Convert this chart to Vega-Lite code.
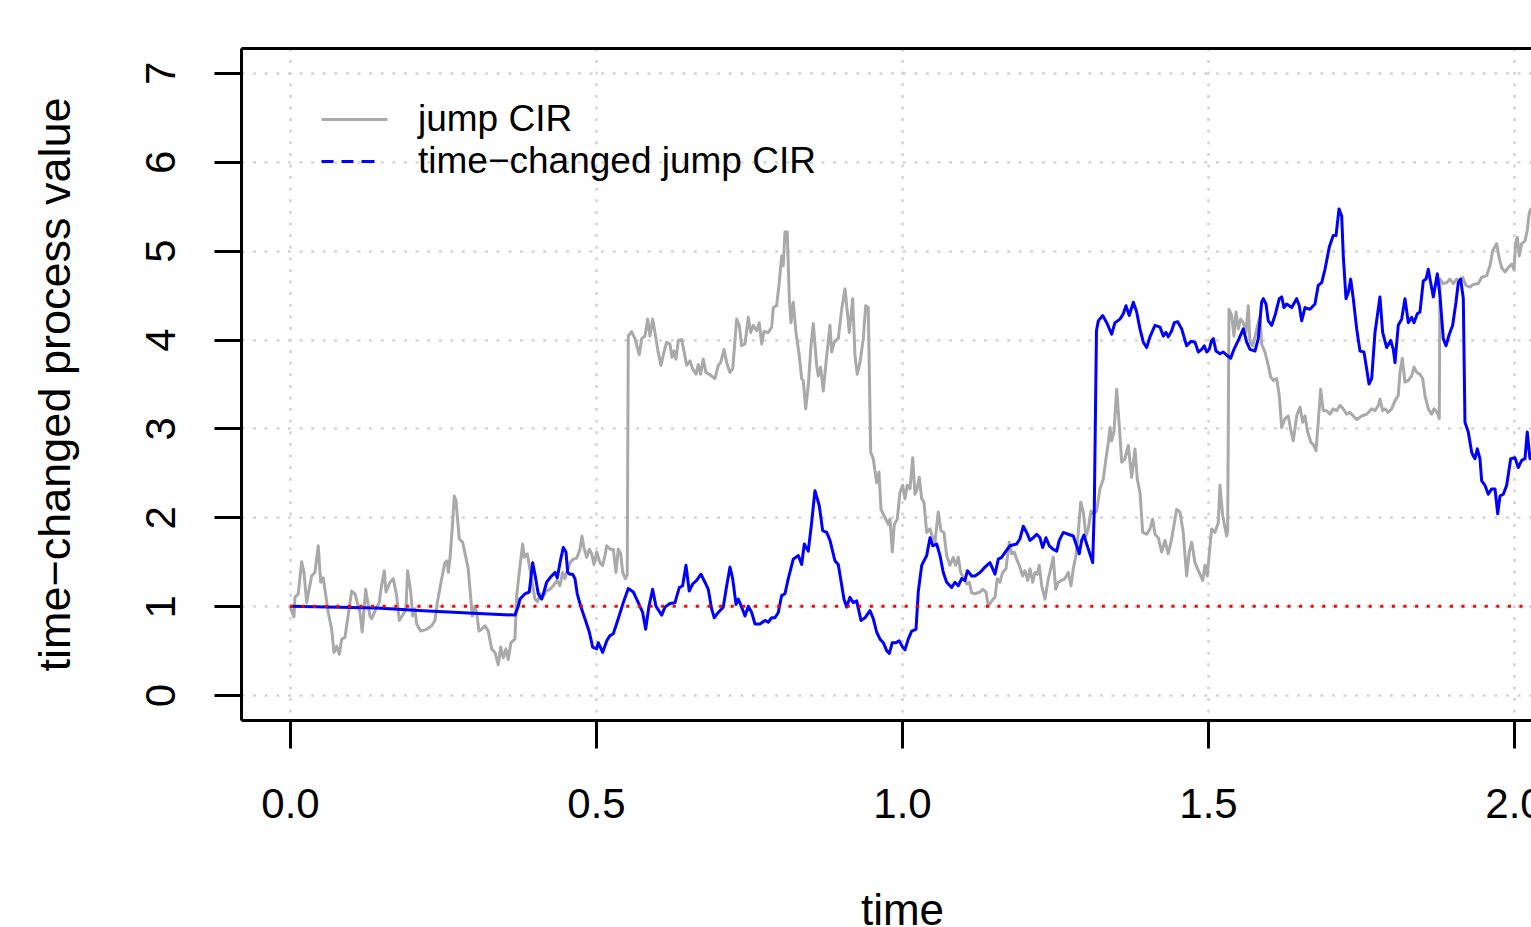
{
  "$schema": "https://vega.github.io/schema/vega-lite/v6.json",
  "width": 1290,
  "height": 672,
  "autosize": {"type": "none"},
  "padding": {"left": 241, "top": 48, "right": 0, "bottom": 207},
  "background": "white",
  "config": {
    "font": "Liberation Sans",
    "view": {"stroke": null},
    "axis": {
      "domainColor": "black", "domainWidth": 3, "tickColor": "black", "tickWidth": 3,
      "labelColor": "black", "labelFont": "Liberation Sans", "labelFontSize": 42,
      "titleColor": "black", "titleFont": "Liberation Sans", "titleFontSize": 43, "titleFontWeight": "normal",
      "gridColor": "#d3d3d3", "gridWidth": 2.5, "gridDash": [3, 8.6], "gridOpacity": 1
    }
  },
  "datasets": {
    "g": [{"t":0,"v":1.00},{"t":0.0065,"v":0.88},{"t":0.0082,"v":1.10},{"t":0.0136,"v":1.14},{"t":0.0191,"v":1.50},{"t":0.0229,"v":1.38},{"t":0.0273,"v":1.04},{"t":0.0354,"v":1.34},{"t":0.0408,"v":1.38},{"t":0.0462,"v":1.68},{"t":0.0502,"v":1.27},{"t":0.0544,"v":1.32},{"t":0.0626,"v":0.93},{"t":0.0681,"v":0.74},{"t":0.0719,"v":0.48},{"t":0.0763,"v":0.55},{"t":0.0806,"v":0.46},{"t":0.0845,"v":0.63},{"t":0.0899,"v":0.65},{"t":0.1008,"v":1.17},{"t":0.1062,"v":1.14},{"t":0.1144,"v":0.93},{"t":0.1181,"v":0.71},{"t":0.1237,"v":1.19},{"t":0.1307,"v":0.89},{"t":0.1335,"v":0.86},{"t":0.1417,"v":0.99},{"t":0.1459,"v":1.04},{"t":0.1487,"v":1.19},{"t":0.1541,"v":1.40},{"t":0.1569,"v":1.16},{"t":0.1634,"v":1.27},{"t":0.1688,"v":1.31},{"t":0.1743,"v":1.12},{"t":0.1786,"v":0.84},{"t":0.1851,"v":0.91},{"t":0.1895,"v":0.97},{"t":0.1923,"v":1.40},{"t":0.1972,"v":1.17},{"t":0.2005,"v":0.89},{"t":0.2042,"v":0.97},{"t":0.2070,"v":0.80},{"t":0.2136,"v":0.72},{"t":0.2234,"v":0.74},{"t":0.2315,"v":0.78},{"t":0.2369,"v":0.84},{"t":0.2407,"v":1.04},{"t":0.2479,"v":1.31},{"t":0.2533,"v":1.49},{"t":0.2570,"v":1.51},{"t":0.2587,"v":1.38},{"t":0.2614,"v":1.53},{"t":0.2658,"v":1.94},{"t":0.2685,"v":2.24},{"t":0.2712,"v":2.19},{"t":0.2766,"v":1.76},{"t":0.2822,"v":1.72},{"t":0.2913,"v":1.42},{"t":0.2979,"v":0.89},{"t":0.3023,"v":1.00},{"t":0.3051,"v":0.93},{"t":0.3088,"v":0.72},{"t":0.3132,"v":0.74},{"t":0.3186,"v":0.78},{"t":0.3240,"v":0.72},{"t":0.3296,"v":0.52},{"t":0.3350,"v":0.48},{"t":0.3404,"v":0.34},{"t":0.3443,"v":0.54},{"t":0.3485,"v":0.42},{"t":0.3529,"v":0.52},{"t":0.3567,"v":0.40},{"t":0.3611,"v":0.59},{"t":0.3676,"v":0.63},{"t":0.3704,"v":1.12},{"t":0.3747,"v":1.38},{"t":0.3802,"v":1.70},{"t":0.3829,"v":1.55},{"t":0.3877,"v":1.59},{"t":0.3910,"v":1.46},{"t":0.3966,"v":1.23},{"t":0.4003,"v":1.08},{"t":0.4047,"v":1.05},{"t":0.4085,"v":1.14},{"t":0.4129,"v":1.10},{"t":0.4183,"v":1.17},{"t":0.4248,"v":1.19},{"t":0.4302,"v":1.23},{"t":0.4368,"v":1.29},{"t":0.4412,"v":1.23},{"t":0.4456,"v":1.38},{"t":0.4493,"v":1.31},{"t":0.4531,"v":1.40},{"t":0.4575,"v":1.49},{"t":0.4629,"v":1.53},{"t":0.4685,"v":1.54},{"t":0.4739,"v":1.64},{"t":0.4771,"v":1.79},{"t":0.4804,"v":1.66},{"t":0.4848,"v":1.55},{"t":0.4891,"v":1.64},{"t":0.4930,"v":1.59},{"t":0.4967,"v":1.47},{"t":0.5011,"v":1.61},{"t":0.5065,"v":1.49},{"t":0.5109,"v":1.46},{"t":0.5147,"v":1.57},{"t":0.5175,"v":1.68},{"t":0.5229,"v":1.64},{"t":0.5283,"v":1.64},{"t":0.5327,"v":1.38},{"t":0.5364,"v":1.64},{"t":0.5404,"v":1.59},{"t":0.5436,"v":1.38},{"t":0.5479,"v":1.31},{"t":0.5511,"v":1.35},{"t":0.5528,"v":4.04},{"t":0.5583,"v":4.09},{"t":0.5637,"v":4.01},{"t":0.5707,"v":3.83},{"t":0.5747,"v":4.01},{"t":0.5801,"v":4.04},{"t":0.5845,"v":4.23},{"t":0.5882,"v":4.04},{"t":0.5926,"v":4.23},{"t":0.5964,"v":4.08},{"t":0.6008,"v":3.89},{"t":0.6062,"v":3.71},{"t":0.6111,"v":3.86},{"t":0.6155,"v":3.97},{"t":0.6209,"v":3.95},{"t":0.6242,"v":3.80},{"t":0.6275,"v":3.87},{"t":0.6307,"v":3.78},{"t":0.6345,"v":3.99},{"t":0.6400,"v":4.00},{"t":0.6438,"v":3.87},{"t":0.6482,"v":3.71},{"t":0.6536,"v":3.76},{"t":0.6580,"v":3.67},{"t":0.6634,"v":3.61},{"t":0.6672,"v":3.72},{"t":0.6710,"v":3.61},{"t":0.6753,"v":3.78},{"t":0.6797,"v":3.63},{"t":0.6851,"v":3.61},{"t":0.6944,"v":3.56},{"t":0.6998,"v":3.71},{"t":0.7037,"v":3.74},{"t":0.7092,"v":3.89},{"t":0.7136,"v":3.74},{"t":0.7190,"v":3.63},{"t":0.7234,"v":3.67},{"t":0.7299,"v":4.23},{"t":0.7342,"v":4.16},{"t":0.7381,"v":3.93},{"t":0.7435,"v":3.95},{"t":0.7489,"v":4.25},{"t":0.7528,"v":4.08},{"t":0.7570,"v":4.16},{"t":0.7626,"v":4.10},{"t":0.7668,"v":4.19},{"t":0.7708,"v":3.95},{"t":0.7745,"v":4.09},{"t":0.7815,"v":4.08},{"t":0.7871,"v":4.14},{"t":0.7897,"v":4.36},{"t":0.7952,"v":4.38},{"t":0.7995,"v":4.64},{"t":0.8034,"v":4.94},{"t":0.8060,"v":4.83},{"t":0.8088,"v":5.21},{"t":0.8126,"v":5.21},{"t":0.8159,"v":4.46},{"t":0.8186,"v":4.19},{"t":0.8224,"v":4.42},{"t":0.8268,"v":4.08},{"t":0.8322,"v":3.82},{"t":0.8361,"v":3.56},{"t":0.8387,"v":3.54},{"t":0.8427,"v":3.22},{"t":0.8469,"v":3.48},{"t":0.8513,"v":3.93},{"t":0.8551,"v":4.18},{"t":0.8606,"v":3.71},{"t":0.8632,"v":3.59},{"t":0.8671,"v":3.69},{"t":0.8714,"v":3.42},{"t":0.8770,"v":3.82},{"t":0.8824,"v":4.16},{"t":0.8851,"v":3.86},{"t":0.8894,"v":3.97},{"t":0.8959,"v":4.01},{"t":0.9015,"v":4.34},{"t":0.9069,"v":4.57},{"t":0.9113,"v":4.27},{"t":0.9139,"v":4.08},{"t":0.9194,"v":4.46},{"t":0.9232,"v":3.82},{"t":0.9270,"v":3.61},{"t":0.9314,"v":3.74},{"t":0.9368,"v":4.01},{"t":0.9407,"v":4.38},{"t":0.9449,"v":4.36},{"t":0.9489,"v":2.73},{"t":0.9531,"v":2.66},{"t":0.9586,"v":2.39},{"t":0.9624,"v":2.51},{"t":0.9657,"v":2.09},{"t":0.9722,"v":2.00},{"t":0.9776,"v":1.92},{"t":0.9804,"v":1.98},{"t":0.9842,"v":1.61},{"t":0.9874,"v":1.92},{"t":0.9923,"v":1.98},{"t":0.9967,"v":2.28},{"t":1.0011,"v":2.36},{"t":1.0049,"v":2.21},{"t":1.0087,"v":2.36},{"t":1.0131,"v":2.32},{"t":1.0175,"v":2.67},{"t":1.0212,"v":2.26},{"t":1.0240,"v":2.30},{"t":1.0283,"v":2.45},{"t":1.0322,"v":2.21},{"t":1.0359,"v":2.17},{"t":1.0404,"v":1.83},{"t":1.0458,"v":1.87},{"t":1.0502,"v":1.77},{"t":1.0539,"v":1.72},{"t":1.0593,"v":2.06},{"t":1.0637,"v":1.85},{"t":1.0686,"v":1.83},{"t":1.0730,"v":1.57},{"t":1.0784,"v":1.46},{"t":1.0838,"v":1.55},{"t":1.0877,"v":1.46},{"t":1.0920,"v":1.55},{"t":1.0959,"v":1.38},{"t":1.1013,"v":1.31},{"t":1.1057,"v":1.25},{"t":1.1100,"v":1.27},{"t":1.1139,"v":1.15},{"t":1.1193,"v":1.14},{"t":1.1275,"v":1.16},{"t":1.1319,"v":1.19},{"t":1.1373,"v":1.16},{"t":1.1410,"v":1.00},{"t":1.1466,"v":1.06},{"t":1.1520,"v":1.10},{"t":1.1557,"v":1.31},{"t":1.1601,"v":1.27},{"t":1.1645,"v":1.38},{"t":1.1699,"v":1.42},{"t":1.1753,"v":1.72},{"t":1.1792,"v":1.59},{"t":1.1835,"v":1.61},{"t":1.1874,"v":1.53},{"t":1.1917,"v":1.46},{"t":1.1972,"v":1.34},{"t":1.2010,"v":1.40},{"t":1.2054,"v":1.29},{"t":1.2092,"v":1.42},{"t":1.2136,"v":1.27},{"t":1.2173,"v":1.38},{"t":1.2211,"v":1.36},{"t":1.2243,"v":1.46},{"t":1.2283,"v":1.23},{"t":1.2337,"v":1.08},{"t":1.2391,"v":1.31},{"t":1.2430,"v":1.42},{"t":1.2472,"v":1.55},{"t":1.2511,"v":1.19},{"t":1.2554,"v":1.27},{"t":1.2609,"v":1.29},{"t":1.2663,"v":1.31},{"t":1.2717,"v":1.38},{"t":1.2761,"v":1.23},{"t":1.2799,"v":1.42},{"t":1.2843,"v":1.57},{"t":1.2881,"v":1.83},{"t":1.2920,"v":2.17},{"t":1.2963,"v":2.06},{"t":1.3007,"v":1.79},{"t":1.3044,"v":1.87},{"t":1.3088,"v":2.07},{"t":1.3126,"v":2.04},{"t":1.3181,"v":2.07},{"t":1.3235,"v":2.32},{"t":1.3289,"v":2.43},{"t":1.3333,"v":2.66},{"t":1.3371,"v":2.84},{"t":1.3399,"v":3.01},{"t":1.3426,"v":2.86},{"t":1.3464,"v":2.96},{"t":1.3508,"v":3.44},{"t":1.3551,"v":3.03},{"t":1.3590,"v":2.62},{"t":1.3644,"v":2.66},{"t":1.3698,"v":2.81},{"t":1.3753,"v":2.45},{"t":1.3807,"v":2.77},{"t":1.3845,"v":2.43},{"t":1.3889,"v":2.28},{"t":1.3933,"v":1.83},{"t":1.3998,"v":1.81},{"t":1.4052,"v":1.87},{"t":1.4096,"v":1.98},{"t":1.4134,"v":1.81},{"t":1.4188,"v":1.77},{"t":1.4243,"v":1.61},{"t":1.4297,"v":1.74},{"t":1.4351,"v":1.59},{"t":1.4407,"v":1.76},{"t":1.4488,"v":2.09},{"t":1.4542,"v":2.06},{"t":1.4596,"v":1.83},{"t":1.4651,"v":1.34},{"t":1.4694,"v":1.61},{"t":1.4734,"v":1.72},{"t":1.4788,"v":1.49},{"t":1.4842,"v":1.40},{"t":1.4914,"v":1.29},{"t":1.4951,"v":1.46},{"t":1.4989,"v":1.34},{"t":1.5021,"v":1.59},{"t":1.5060,"v":1.87},{"t":1.5114,"v":1.83},{"t":1.5168,"v":1.94},{"t":1.5196,"v":2.36},{"t":1.5240,"v":2.02},{"t":1.5305,"v":1.79},{"t":1.5322,"v":1.85},{"t":1.5343,"v":4.34},{"t":1.5387,"v":4.27},{"t":1.5425,"v":4.04},{"t":1.5458,"v":4.31},{"t":1.5495,"v":4.12},{"t":1.5534,"v":4.23},{"t":1.5577,"v":4.19},{"t":1.5621,"v":4.08},{"t":1.5659,"v":4.38},{"t":1.5686,"v":3.97},{"t":1.5730,"v":3.93},{"t":1.5768,"v":4.03},{"t":1.5822,"v":4.19},{"t":1.5850,"v":4.25},{"t":1.5877,"v":3.95},{"t":1.5931,"v":3.86},{"t":1.5985,"v":3.71},{"t":1.6024,"v":3.58},{"t":1.6067,"v":3.54},{"t":1.6122,"v":3.56},{"t":1.6165,"v":3.37},{"t":1.6204,"v":3.01},{"t":1.6258,"v":3.11},{"t":1.6312,"v":3.14},{"t":1.6351,"v":2.99},{"t":1.6394,"v":2.86},{"t":1.6449,"v":3.14},{"t":1.6503,"v":3.24},{"t":1.6547,"v":3.07},{"t":1.6585,"v":3.14},{"t":1.6629,"v":2.96},{"t":1.6683,"v":2.84},{"t":1.6721,"v":2.82},{"t":1.6765,"v":2.75},{"t":1.6802,"v":3.07},{"t":1.6841,"v":3.44},{"t":1.6884,"v":3.20},{"t":1.6939,"v":3.20},{"t":1.6993,"v":3.16},{"t":1.7047,"v":3.22},{"t":1.7103,"v":3.20},{"t":1.7157,"v":3.26},{"t":1.7211,"v":3.22},{"t":1.7266,"v":3.16},{"t":1.7320,"v":3.18},{"t":1.7374,"v":3.14},{"t":1.7430,"v":3.10},{"t":1.7511,"v":3.14},{"t":1.7593,"v":3.16},{"t":1.7675,"v":3.22},{"t":1.7729,"v":3.20},{"t":1.7783,"v":3.26},{"t":1.7810,"v":3.33},{"t":1.7854,"v":3.20},{"t":1.7892,"v":3.22},{"t":1.7946,"v":3.18},{"t":1.8000,"v":3.22},{"t":1.8056,"v":3.31},{"t":1.8109,"v":3.37},{"t":1.8137,"v":3.63},{"t":1.8175,"v":3.79},{"t":1.8219,"v":3.52},{"t":1.8273,"v":3.54},{"t":1.8328,"v":3.59},{"t":1.8366,"v":3.69},{"t":1.8410,"v":3.63},{"t":1.8464,"v":3.61},{"t":1.8508,"v":3.56},{"t":1.8546,"v":3.37},{"t":1.8600,"v":3.22},{"t":1.8655,"v":3.16},{"t":1.8693,"v":3.22},{"t":1.8747,"v":3.18},{"t":1.8779,"v":3.11},{"t":1.8791,"v":4.68},{"t":1.8845,"v":4.63},{"t":1.8900,"v":4.64},{"t":1.8954,"v":4.68},{"t":1.9008,"v":4.63},{"t":1.9064,"v":4.68},{"t":1.9118,"v":4.66},{"t":1.9162,"v":4.70},{"t":1.9216,"v":4.61},{"t":1.9281,"v":4.59},{"t":1.9335,"v":4.62},{"t":1.9417,"v":4.63},{"t":1.9472,"v":4.70},{"t":1.9554,"v":4.72},{"t":1.9608,"v":4.83},{"t":1.9652,"v":5.00},{"t":1.9717,"v":5.08},{"t":1.9760,"v":4.91},{"t":1.9799,"v":4.81},{"t":1.9853,"v":4.76},{"t":1.9907,"v":4.81},{"t":1.9962,"v":4.85},{"t":2.0000,"v":4.79},{"t":2.0028,"v":5.09},{"t":2.0054,"v":5.15},{"t":2.0087,"v":4.94},{"t":2.0126,"v":5.08},{"t":2.0180,"v":5.11},{"t":2.0217,"v":5.23},{"t":2.0250,"v":5.43},{"t":2.0278,"v":5.47},{"t":2.035,"v":5.5}],
    "b": [{"t":0,"v":1.00},{"t":0.1416,"v":0.98},{"t":0.218,"v":0.95},{"t":0.2995,"v":0.92},{"t":0.3676,"v":0.90},{"t":0.3730,"v":1.00},{"t":0.3758,"v":1.08},{"t":0.3840,"v":1.14},{"t":0.3910,"v":1.16},{"t":0.3966,"v":1.49},{"t":0.4008,"v":1.34},{"t":0.4057,"v":1.14},{"t":0.4113,"v":1.08},{"t":0.4150,"v":1.16},{"t":0.4194,"v":1.27},{"t":0.4248,"v":1.32},{"t":0.4330,"v":1.38},{"t":0.4368,"v":1.32},{"t":0.4412,"v":1.49},{"t":0.4466,"v":1.66},{"t":0.4510,"v":1.61},{"t":0.4538,"v":1.38},{"t":0.4575,"v":1.36},{"t":0.4619,"v":1.36},{"t":0.4657,"v":1.31},{"t":0.4694,"v":1.14},{"t":0.4750,"v":1.00},{"t":0.4820,"v":0.86},{"t":0.4891,"v":0.71},{"t":0.4946,"v":0.54},{"t":0.5011,"v":0.52},{"t":0.5038,"v":0.59},{"t":0.5109,"v":0.48},{"t":0.5175,"v":0.61},{"t":0.5229,"v":0.67},{"t":0.5283,"v":0.69},{"t":0.5364,"v":0.86},{"t":0.5446,"v":1.04},{"t":0.5528,"v":1.20},{"t":0.5610,"v":1.16},{"t":0.5691,"v":1.04},{"t":0.5763,"v":0.93},{"t":0.5812,"v":0.74},{"t":0.5866,"v":1.00},{"t":0.5926,"v":1.19},{"t":0.5980,"v":1.00},{"t":0.6074,"v":0.90},{"t":0.6127,"v":0.99},{"t":0.6209,"v":1.03},{"t":0.6291,"v":1.04},{"t":0.6361,"v":1.21},{"t":0.6416,"v":1.23},{"t":0.6471,"v":1.46},{"t":0.6524,"v":1.17},{"t":0.6580,"v":1.25},{"t":0.6645,"v":1.29},{"t":0.6716,"v":1.36},{"t":0.6781,"v":1.27},{"t":0.6835,"v":1.19},{"t":0.6890,"v":0.97},{"t":0.6933,"v":0.87},{"t":0.6998,"v":0.93},{"t":0.7080,"v":0.99},{"t":0.7136,"v":1.23},{"t":0.7190,"v":1.44},{"t":0.7234,"v":1.31},{"t":0.7288,"v":1.02},{"t":0.7325,"v":1.08},{"t":0.7381,"v":0.99},{"t":0.7435,"v":0.89},{"t":0.7489,"v":1.00},{"t":0.7544,"v":0.93},{"t":0.7598,"v":0.80},{"t":0.7680,"v":0.80},{"t":0.7761,"v":0.84},{"t":0.7815,"v":0.82},{"t":0.7871,"v":0.87},{"t":0.7925,"v":0.87},{"t":0.7979,"v":0.93},{"t":0.8034,"v":1.12},{"t":0.8088,"v":1.14},{"t":0.8142,"v":1.31},{"t":0.8224,"v":1.53},{"t":0.8306,"v":1.57},{"t":0.8361,"v":1.47},{"t":0.8404,"v":1.70},{"t":0.8469,"v":1.62},{"t":0.8524,"v":1.94},{"t":0.8578,"v":2.30},{"t":0.8649,"v":2.13},{"t":0.8704,"v":1.85},{"t":0.8770,"v":1.83},{"t":0.8824,"v":1.74},{"t":0.8905,"v":1.51},{"t":0.8959,"v":1.47},{"t":0.8998,"v":1.31},{"t":0.9052,"v":1.08},{"t":0.9097,"v":0.99},{"t":0.9150,"v":1.10},{"t":0.9204,"v":1.04},{"t":0.9260,"v":1.06},{"t":0.9330,"v":0.84},{"t":0.9395,"v":0.87},{"t":0.9477,"v":0.95},{"t":0.9531,"v":0.86},{"t":0.9586,"v":0.71},{"t":0.9641,"v":0.63},{"t":0.9695,"v":0.59},{"t":0.9750,"v":0.50},{"t":0.9793,"v":0.47},{"t":0.9842,"v":0.59},{"t":0.9902,"v":0.59},{"t":0.9956,"v":0.61},{"t":1.0011,"v":0.54},{"t":1.0049,"v":0.51},{"t":1.0103,"v":0.63},{"t":1.0158,"v":0.72},{"t":1.0229,"v":0.74},{"t":1.0266,"v":1.16},{"t":1.0322,"v":1.46},{"t":1.0404,"v":1.57},{"t":1.0458,"v":1.77},{"t":1.0502,"v":1.68},{"t":1.0567,"v":1.70},{"t":1.0621,"v":1.57},{"t":1.0675,"v":1.38},{"t":1.0730,"v":1.27},{"t":1.0812,"v":1.21},{"t":1.0866,"v":1.27},{"t":1.0920,"v":1.23},{"t":1.0975,"v":1.31},{"t":1.1029,"v":1.29},{"t":1.1070,"v":1.40},{"t":1.1139,"v":1.34},{"t":1.1193,"v":1.34},{"t":1.1275,"v":1.38},{"t":1.1356,"v":1.44},{"t":1.1438,"v":1.49},{"t":1.1520,"v":1.36},{"t":1.1574,"v":1.53},{"t":1.1629,"v":1.55},{"t":1.1699,"v":1.62},{"t":1.1765,"v":1.68},{"t":1.1874,"v":1.70},{"t":1.1928,"v":1.76},{"t":1.1982,"v":1.90},{"t":1.2037,"v":1.83},{"t":1.2092,"v":1.74},{"t":1.2145,"v":1.77},{"t":1.2201,"v":1.81},{"t":1.2255,"v":1.77},{"t":1.2299,"v":1.66},{"t":1.2353,"v":1.77},{"t":1.2407,"v":1.68},{"t":1.2472,"v":1.64},{"t":1.2528,"v":1.62},{"t":1.2570,"v":1.74},{"t":1.2636,"v":1.83},{"t":1.2717,"v":1.81},{"t":1.2799,"v":1.79},{"t":1.2854,"v":1.68},{"t":1.2897,"v":1.59},{"t":1.2936,"v":1.74},{"t":1.2974,"v":1.80},{"t":1.3018,"v":1.70},{"t":1.3061,"v":1.61},{"t":1.3116,"v":1.49},{"t":1.3142,"v":2.09},{"t":1.3178,"v":4.10},{"t":1.3208,"v":4.21},{"t":1.3280,"v":4.27},{"t":1.3345,"v":4.19},{"t":1.3426,"v":4.06},{"t":1.3480,"v":4.19},{"t":1.3562,"v":4.23},{"t":1.3616,"v":4.29},{"t":1.3660,"v":4.38},{"t":1.3714,"v":4.27},{"t":1.3780,"v":4.42},{"t":1.3835,"v":4.31},{"t":1.3889,"v":4.12},{"t":1.3943,"v":3.97},{"t":1.3998,"v":3.91},{"t":1.4052,"v":4.03},{"t":1.4134,"v":4.16},{"t":1.4216,"v":4.14},{"t":1.4270,"v":4.04},{"t":1.4314,"v":4.08},{"t":1.4351,"v":4.03},{"t":1.4407,"v":4.10},{"t":1.4449,"v":4.19},{"t":1.4505,"v":4.20},{"t":1.4570,"v":4.12},{"t":1.4651,"v":3.93},{"t":1.4722,"v":3.98},{"t":1.4788,"v":3.97},{"t":1.4842,"v":3.86},{"t":1.4897,"v":3.89},{"t":1.4939,"v":3.93},{"t":1.4979,"v":3.86},{"t":1.5021,"v":3.89},{"t":1.5060,"v":3.99},{"t":1.5087,"v":4.01},{"t":1.5131,"v":3.87},{"t":1.5196,"v":3.84},{"t":1.5250,"v":3.86},{"t":1.5315,"v":3.82},{"t":1.5371,"v":3.79},{"t":1.5425,"v":3.89},{"t":1.5495,"v":3.99},{"t":1.5577,"v":4.12},{"t":1.5632,"v":3.97},{"t":1.5686,"v":3.89},{"t":1.5768,"v":3.87},{"t":1.5822,"v":4.01},{"t":1.5877,"v":4.42},{"t":1.5904,"v":4.46},{"t":1.5948,"v":4.40},{"t":1.5985,"v":4.21},{"t":1.6041,"v":4.16},{"t":1.6095,"v":4.27},{"t":1.6165,"v":4.46},{"t":1.6204,"v":4.48},{"t":1.6242,"v":4.36},{"t":1.6286,"v":4.40},{"t":1.6368,"v":4.36},{"t":1.6449,"v":4.46},{"t":1.6492,"v":4.38},{"t":1.6531,"v":4.21},{"t":1.6585,"v":4.36},{"t":1.6667,"v":4.34},{"t":1.6748,"v":4.40},{"t":1.6802,"v":4.61},{"t":1.6858,"v":4.64},{"t":1.6912,"v":4.79},{"t":1.6982,"v":5.04},{"t":1.7047,"v":5.17},{"t":1.7092,"v":5.17},{"t":1.7141,"v":5.47},{"t":1.7185,"v":5.39},{"t":1.7211,"v":4.94},{"t":1.7255,"v":4.46},{"t":1.7293,"v":4.53},{"t":1.7332,"v":4.68},{"t":1.7374,"v":4.46},{"t":1.7430,"v":4.12},{"t":1.7484,"v":3.87},{"t":1.7549,"v":3.86},{"t":1.7593,"v":3.67},{"t":1.7631,"v":3.50},{"t":1.7675,"v":3.56},{"t":1.7729,"v":4.08},{"t":1.7810,"v":4.48},{"t":1.7854,"v":4.08},{"t":1.7920,"v":3.91},{"t":1.7985,"v":3.99},{"t":1.8028,"v":3.89},{"t":1.8056,"v":3.74},{"t":1.8109,"v":4.16},{"t":1.8165,"v":4.23},{"t":1.8219,"v":4.46},{"t":1.8273,"v":4.19},{"t":1.8328,"v":4.25},{"t":1.8366,"v":4.19},{"t":1.8420,"v":4.29},{"t":1.8464,"v":4.31},{"t":1.8518,"v":4.66},{"t":1.8562,"v":4.68},{"t":1.8600,"v":4.79},{"t":1.8639,"v":4.64},{"t":1.8682,"v":4.48},{"t":1.8747,"v":4.74},{"t":1.8791,"v":4.49},{"t":1.8845,"v":4.01},{"t":1.8889,"v":3.93},{"t":1.8943,"v":4.06},{"t":1.8998,"v":4.16},{"t":1.9052,"v":4.42},{"t":1.9090,"v":4.64},{"t":1.9129,"v":4.68},{"t":1.9172,"v":4.46},{"t":1.9199,"v":3.07},{"t":1.9253,"v":2.96},{"t":1.9309,"v":2.73},{"t":1.9335,"v":2.69},{"t":1.9363,"v":2.66},{"t":1.9401,"v":2.77},{"t":1.9444,"v":2.66},{"t":1.9472,"v":2.41},{"t":1.9526,"v":2.36},{"t":1.9580,"v":2.26},{"t":1.9635,"v":2.32},{"t":1.9690,"v":2.32},{"t":1.9734,"v":2.04},{"t":1.9771,"v":2.24},{"t":1.9825,"v":2.26},{"t":1.9881,"v":2.36},{"t":1.9946,"v":2.66},{"t":2.0016,"v":2.67},{"t":2.0070,"v":2.56},{"t":2.0126,"v":2.64},{"t":2.0180,"v":2.66},{"t":2.0217,"v":2.96},{"t":2.0261,"v":2.66},{"t":2.035,"v":2.7}],
    "ref": [{"t": 0, "t2": 2.1, "v": 1}]
  },
  "resolve": {"axis": {"x": "independent"}},
  "layer": [
    {
      "data": {"name": "g"},
      "mark": {"type": "line", "strokeWidth": 3, "clip": true, "strokeJoin": "round"},
      "encoding": {
        "x": {"field": "t", "type": "quantitative",
          "scale": {"domain": [-0.08, 2.0278], "nice": false, "zero": false},
          "axis": {"orient": "bottom", "values": [0, 0.5, 1, 1.5, 2], "format": ".1f", "tickSize": 28,
            "labelPadding": 36, "labelFlush": false, "labelOverlap": false, "grid": true,
            "title": "time", "titleFontSize": 44, "titleX": 661, "titleY": 204, "titleAlign": "center", "titleBaseline": "alphabetic"}},
        "y": {"field": "v", "type": "quantitative", "title": "time−changed process value",
          "scale": {"domain": [-0.28, 7.28], "nice": false, "zero": false},
          "axis": {"orient": "left", "values": [0, 1, 2, 3, 4, 5, 6, 7], "format": "d", "tickSize": 27,
            "labelAngle": 270, "labelAlign": "center", "labelBaseline": "alphabetic", "labelPadding": 40,
            "labelOverlap": false, "labelFlush": false, "grid": true,
            "title": "time−changed process value", "titleFontSize": 45, "titleX": -172, "titleY": 336, "titleAngle": 270,
            "titleAlign": "center", "titleBaseline": "alphabetic"}},
        "color": {"datum": "jump CIR", "type": "nominal",
          "scale": {"domain": ["jump CIR", "time−changed jump CIR"], "range": ["#a9a9a9", "#0000ff"]},
          "legend": {"title": null, "orient": "none", "legendX": 90, "legendY": 48, "padding": 0,
            "symbolType": "M-1.5,0H1.5", "symbolSize": 1936, "symbolStrokeWidth": 3, "rowPadding": 0,
            "labelFont": "Liberation Sans", "labelFontSize": 37, "labelColor": "black", "labelOffset": 40,
            "labelLimit": 1000,
            "encode": {"symbols": {"update": {"strokeDash": {"signal": "datum.value == 'time−changed jump CIR' ? [12, 8, 12, 8, 13, 13] : [1, 0]"}}}}}}
      }
    },
    {
      "data": {"name": "b"},
      "mark": {"type": "line", "strokeWidth": 3, "clip": true, "strokeJoin": "round"},
      "encoding": {
        "x": {"field": "t", "type": "quantitative",
          "axis": {"orient": "top", "ticks": false, "labels": false, "grid": false, "domain": true, "title": null}},
        "y": {"field": "v", "type": "quantitative", "title": "time−changed process value"},
        "color": {"datum": "time−changed jump CIR", "type": "nominal"}
      }
    },
    {
      "data": {"name": "ref"},
      "mark": {"type": "rule", "color": "red", "strokeWidth": 3, "strokeDash": [3, 8.6], "clip": true},
      "encoding": {
        "x": {"field": "t", "type": "quantitative", "axis": null},
        "x2": {"field": "t2"},
        "y": {"field": "v", "type": "quantitative", "title": "time−changed process value"}
      }
    }
  ]
}
